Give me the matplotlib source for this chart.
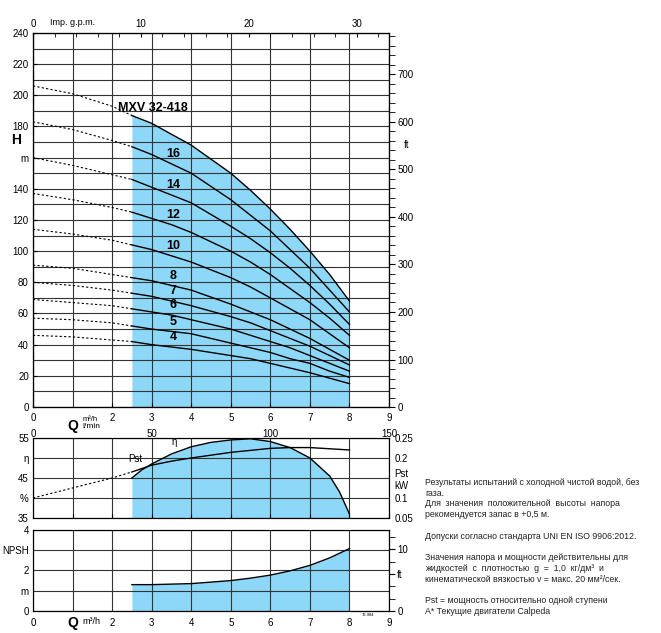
import numpy as np
import matplotlib.pyplot as plt
from matplotlib.ticker import MultipleLocator

BLUE = '#8dd8f8'
q = [0, 1, 2, 2.5, 3, 3.5, 4, 5, 5.5, 6, 6.5, 7, 7.5, 8]
curves = {
    'MXV 32-418': [206, 201, 193, 187, 182, 175, 168, 150, 139, 127, 114, 100, 85, 68],
    '16': [183, 178, 171, 167, 162, 156, 150, 133, 123, 113, 101, 89, 75, 61],
    '14': [160, 155, 149, 146, 141, 136, 131, 116, 108, 99, 89, 78, 66, 53],
    '12': [137, 133, 128, 125, 121, 117, 112, 100, 93, 85, 76, 67, 57, 46],
    '10': [114, 111, 107, 104, 101, 97, 93, 83, 77, 70, 63, 56, 47, 38],
    '8': [91, 89, 85, 83, 81, 78, 75, 66, 61, 56, 50, 44, 37, 30],
    '7': [80, 78, 75, 73, 71, 68, 65, 58, 54, 49, 44, 39, 33, 27],
    '6': [69, 67, 65, 63, 61, 59, 56, 50, 46, 42, 38, 33, 28, 23],
    '5': [57, 56, 54, 52, 50, 48.5, 47, 41, 38, 35, 31, 28, 23, 19],
    '4': [46, 45, 43, 42, 40, 38.5, 37, 33, 31, 28, 25, 22, 18.5, 15],
}
label_pos = {'16': 156, '14': 136, '12': 117, '10': 97, '8': 78, '7': 68, '6': 59, '5': 48.5, '4': 38.5}

q_eta = [2.5, 2.75, 3, 3.5, 4, 4.5, 5, 5.5, 6, 6.5, 7, 7.5, 7.75, 8]
eta = [45, 47, 48.5, 51, 52.8, 53.9, 54.5, 54.8, 54.1, 52.6, 50, 45.5, 41.5, 36]
q_pst = [0, 1, 2, 2.5, 3, 3.5, 4, 5, 6, 6.5, 7, 8]
pst = [0.10, 0.125, 0.15, 0.165, 0.182, 0.192, 0.2, 0.214, 0.224, 0.226, 0.226, 0.22]
q_npsh = [2.5, 3, 4, 5, 5.5, 6, 6.5, 7, 7.5, 8]
npsh = [1.3, 1.3, 1.35, 1.5, 1.62, 1.77, 1.98, 2.25, 2.62, 3.08]

plt.rcParams['font.family'] = ['Liberation Sans', 'DejaVu Sans']
plt.rcParams['font.size'] = 7
fig = plt.figure(figsize=(6.61, 6.33), dpi=100)
L, W = 0.0499, 0.5386


def style(ax):
    ax.tick_params(direction='in', length=3, width=0.8, pad=3, labelsize=7)
    ax.grid(True, color='#333333', lw=0.8)
    for s in ax.spines.values():
        s.set_linewidth(0.8)


# main H chart
ax = fig.add_axes([L, 0.357, W, 0.591])
ax.set_xlim(0, 9)
ax.set_ylim(0, 240)
ax.set_xticks([0, 2, 3, 4, 5, 6, 7, 8, 9])
ax.set_xticks(range(10), minor=True)
ax.set_yticks(range(0, 241, 20))
ax.set_yticklabels(['m' if v == 160 else str(v) for v in range(0, 241, 20)])
ax.set_yticks(range(0, 241, 10), minor=True)
ax.grid(True, which='minor', color='#333333', lw=0.8)
style(ax)
ax.tick_params(which='minor', length=0)
ax.tick_params(axis='x', pad=4)
ax.fill_between(q[3:], curves['MXV 32-418'][3:], color=BLUE, lw=0)
for k, v in curves.items():
    ax.plot(q[:4], v[:4], 'k', ls=(0, (2, 2)), lw=0.8)
    ax.plot(q[3:], v[3:], 'k', lw=1)
    if k in label_pos:
        ax.text(3.55, label_pos[k] + 2.5, k, fontsize=9, fontweight='bold', ha='center', va='bottom')
ax.text(2.15, 188, 'MXV 32-418', fontsize=9, fontweight='bold', va='bottom')
ax.text(-0.42, 171, 'H', fontsize=10, fontweight='bold', ha='center', va='center')
ax.text(1.0, -7.5, 'Q', fontsize=10, fontweight='bold', ha='center', va='top')
ax.text(1.25, -5.5, 'm³/h', fontsize=5.5, va='top')
ax.text(1.25, -10.5, 'l/min', fontsize=6, va='top')
# l/min labels
for lm, lab in [(0, '0'), (50, '50'), (100, '100'), (150, '150')]:
    ax.text(lm * 0.06, -14, lab, fontsize=7, ha='center', va='top')
# top gpm axis
top = ax.twiny()
top.set_xlim(0, 9 * 3.666)
top.set_xticks([0, 10, 20, 30])
top.xaxis.set_minor_locator(MultipleLocator(2))
top.tick_params(direction='in', length=3, labelsize=7, pad=3)
top.tick_params(which='minor', direction='in', length=3)
top.text(1.0, 243.5, 'Imp. g.p.m.', fontsize=6.5, ha='center', va='bottom', transform=ax.transData)
# right ft axis
rt = ax.twinx()
rt.set_ylim(0, 240 * 3.2808)
rt.set_yticks(range(0, 701, 100))
rt.yaxis.set_minor_locator(MultipleLocator(20))
rt.tick_params(direction='out', length=4, labelsize=7, pad=2)
rt.tick_params(which='minor', direction='out', length=4)
rt.text(9.45, 166, 'ft', fontsize=7, ha='center', transform=ax.transData)

# efficiency / Pst
ax2 = fig.add_axes([L, 0.1817, W, 0.1264])
ax2.set_xlim(0, 9)
ax2.set_ylim(35, 55)
ax2.set_xticks(range(10))
ax2.set_xticklabels([])
ax2.set_yticks([35, 40, 45, 50, 55])
ax2.set_yticklabels(['35', '%', '45', 'η', '55'])
style(ax2)
ax2.tick_params(axis='y', length=0)
ax2.fill_between(q_eta, eta, 35, color=BLUE, lw=0)
ax2.plot(q_eta, eta, 'k', lw=1)
ax2.text(3.5, 53.3, 'η', fontsize=7)
r2 = ax2.twinx()
r2.set_ylim(0.05, 0.25)
r2.set_yticks([0.05, 0.1, 0.15, 0.2, 0.25])
r2.set_yticklabels(['0.05', '0.1', 'Pst\nkW', '0.2', '0.25'])
r2.tick_params(length=0, labelsize=7, pad=4)
r2.plot(q_pst[:4], pst[:4], 'k', ls=(0, (2, 2)), lw=0.8)
r2.plot(q_pst[3:], pst[3:], 'k', lw=1)
r2.text(2.4, 0.19, 'Pst', fontsize=7)

# NPSH
ax3 = fig.add_axes([L, 0.0348, W, 0.128])
ax3.set_xlim(0, 9)
ax3.set_ylim(0, 4)
ax3.set_xticks([0, 2, 3, 4, 5, 6, 7, 8, 9])
ax3.set_xticks(range(10), minor=True)
ax3.set_yticks([0, 1, 2, 3, 4])
ax3.set_yticklabels(['0', 'm', '2', 'NPSH', '4'])
ax3.grid(True, which='minor', axis='x', color='#333333', lw=0.8)
style(ax3)
ax3.tick_params(which='both', length=0)
ax3.tick_params(axis='x', pad=5)
ax3.fill_between(q_npsh, npsh, color=BLUE, lw=0)
ax3.plot(q_npsh, npsh, 'k', lw=1)
ax3.text(1.0, -0.25, 'Q', fontsize=10, fontweight='bold', ha='center', va='top')
ax3.text(1.25, -0.3, 'm³/h', fontsize=6.5, va='top')
ax3.text(8.3, -0.12, '72.984', fontsize=3, va='top')
r3 = ax3.twinx()
r3.set_ylim(0, 4 * 3.2808)
r3.set_yticks([0, 6, 10])
r3.set_yticklabels(['0', 'ft', '10'])
r3.yaxis.set_minor_locator(MultipleLocator(2))
r3.tick_params(direction='out', length=4, labelsize=7, pad=2)
r3.tick_params(which='minor', direction='out', length=4)

notes = ("Результаты испытаний с холодной чистой водой, без\nгаза.\n"
         "Для  значения  положительной  высоты  напора\nрекомендуется запас в +0,5 м.\n\n"
         "Допуски согласно стандарта UNI EN ISO 9906:2012.\n\n"
         "Значения напора и мощности действительны для\n"
         "жидкостей  с  плотностью  g  =  1,0  кг/дм³  и\n"
         "кинематической вязкостью v = макс. 20 мм²/сек.\n\n"
         "Pst = мощность относительно одной ступени\nA* Текущие двигатели Calpeda")
fig.text(0.643, 1 - 478 / 633, notes, fontsize=6.3, va='top', ha='left', linespacing=1.25, color='#222222')

fig.savefig('out.png', dpi=100)
